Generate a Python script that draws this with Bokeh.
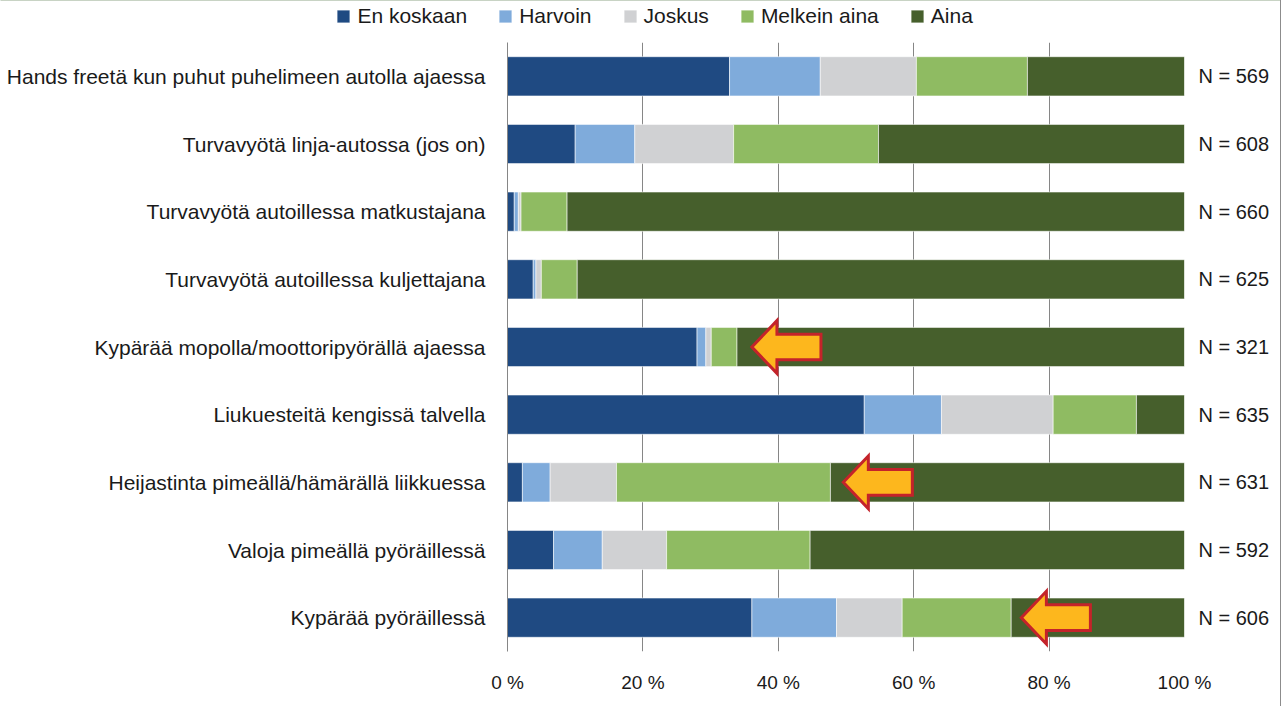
from bokeh.plotting import figure
from bokeh.models import (Range1d, FixedTicker, LinearAxis, Legend, LegendItem,
                          ColumnDataSource)
from bokeh.embed import file_html
from bokeh.resources import INLINE

categories = [
    "Hands freetä kun puhut puhelimeen autolla ajaessa",
    "Turvavyötä linja-autossa (jos on)",
    "Turvavyötä autoillessa matkustajana",
    "Turvavyötä autoillessa kuljettajana",
    "Kypärää mopolla/moottoripyörällä ajaessa",
    "Liukuesteitä kengissä talvella",
    "Heijastinta pimeällä/hämärällä liikkuessa",
    "Valoja pimeällä pyöräillessä",
    "Kypärää pyöräillessä",
]
n_values = [569, 608, 660, 625, 321, 635, 631, 592, 606]

series_names = ["En koskaan", "Harvoin", "Joskus", "Melkein aina", "Aina"]
en_koskaan = [32.8, 10.0, 1.0, 3.8, 28.0, 52.7, 2.2, 6.8, 36.1]
harvoin = [13.4, 8.8, 0.6, 0.4, 1.3, 11.4, 4.1, 7.2, 12.5]
joskus = [14.2, 14.6, 0.4, 0.8, 0.8, 16.5, 9.8, 9.5, 9.7]
melkein_aina = [16.4, 21.4, 6.8, 5.3, 3.8, 12.3, 31.6, 21.2, 16.1]
aina = [23.2, 45.2, 91.2, 89.7, 66.1, 7.1, 52.3, 55.3, 25.6]

x_ticks = [0, 20, 40, 60, 80, 100]
x_tick_labels = ["0 %", "20 %", "40 %", "60 %", "80 %", "100 %"]

# highlighted rows (arrows) and their tip positions (%)
arrow_rows = [4, 6, 8]
arrow_tips = [36.1, 49.6, 75.9]

colors = ["#1F4A82", "#7FABDB", "#D0D1D3", "#8FBB62", "#465F2C"]
FONT = "Liberation Sans"
W = 1281
TOP_H = 42
BORDER = {"border-right": "1px solid #8c8c8c", "box-sizing": "border-box"}

nrows = len(categories)
ypos = [nrows - 1 - i for i in range(nrows)]

data = dict(y=ypos)
for name, vals in zip(series_names, [en_koskaan, harvoin, joskus, melkein_aina, aina]):
    data[name] = vals
source = ColumnDataSource(data)

# ---------- legend strip (separate root, full-width frame) ----------
lf = figure(width=W, height=TOP_H, x_range=Range1d(0, 1), y_range=Range1d(0, 1),
            output_backend="svg", toolbar_location=None,
            x_axis_location=None, y_axis_location=None,
            min_border_left=0, min_border_right=0, min_border_top=0, min_border_bottom=0)
lf.outline_line_color = None
lf.grid.grid_line_color = None
lf.border_fill_color = "white"
lf.background_fill_color = "white"
lf.styles = BORDER
# legend keys: one off-range sample per series so the key swatch has a colour
dummy = [lf.hbar(y=[5], right=[1], height=0.5, color=c, line_color="white",
                 line_width=0.8, line_alpha=0.7) for c in colors]
legend = Legend(items=[LegendItem(label=n, renderers=[r]) for n, r in zip(series_names, dummy)],
                orientation="horizontal", location=(335.4, 14),
                padding=0, margin=0, border_line_color=None, background_fill_alpha=0,
                glyph_width=16, glyph_height=16, label_standoff=6, spacing=30,
                label_text_font=FONT, label_text_font_size="21px",
                label_text_color="#1a1a1a", label_height=20)
lf.add_layout(legend, "center")

# ---------- main chart ----------
p = figure(width=W, height=706 - TOP_H, x_range=Range1d(0, 100),
           y_range=Range1d(-0.5, nrows - 0.5),
           output_backend="svg", toolbar_location=None,
           min_border_left=507, min_border_right=97,
           min_border_top=0, min_border_bottom=55)
p.outline_line_color = None
p.background_fill_color = "white"
p.border_fill_color = "white"
p.styles = BORDER

p.hbar_stack(series_names, y="y", height=0.58, color=colors,
             source=source, line_color="white", line_width=0.8, line_alpha=0.7)

# arrows
head_len, total_len, head_half, shaft_half = 3.7, 10.2, 0.39, 0.19
axs, ays = [], []
for r, t in zip(arrow_rows, arrow_tips):
    yc = nrows - 1 - r
    axs.append([t, t + head_len, t + head_len, t + total_len, t + total_len,
                t + head_len, t + head_len])
    ays.append([yc, yc + head_half, yc + shaft_half, yc + shaft_half,
                yc - shaft_half, yc - shaft_half, yc - head_half])
p.patches(axs, ays, fill_color="#FDB71D", line_color="#C4232A",
          line_width=3, line_join="miter")

# x axis
p.xaxis.ticker = FixedTicker(ticks=x_ticks)
p.xaxis.major_label_overrides = {t: l for t, l in zip(x_ticks, x_tick_labels)}
p.xaxis.axis_line_color = None
p.xaxis.major_tick_line_color = None
p.xaxis.minor_tick_line_color = None
p.xaxis.major_label_standoff = 14
p.xaxis.major_label_text_font = FONT
p.xaxis.major_label_text_font_size = "19px"
p.xaxis.major_label_text_color = "#1a1a1a"

# left y axis
p.yaxis.ticker = FixedTicker(ticks=ypos)
p.yaxis.major_label_overrides = {y: c for y, c in zip(ypos, categories)}
p.yaxis.axis_line_color = "#868686"
p.yaxis.major_tick_line_color = None
p.yaxis.minor_tick_line_color = None
p.yaxis.major_label_standoff = 16
p.yaxis.major_label_text_font = FONT
p.yaxis.major_label_text_font_size = "21px"
p.yaxis.major_label_text_color = "#1a1a1a"

# right axis with N labels
raxis = LinearAxis(ticker=FixedTicker(ticks=ypos))
raxis.major_label_overrides = {y: f"N = {n}" for y, n in zip(ypos, n_values)}
raxis.axis_line_color = None
raxis.major_tick_line_color = None
raxis.minor_tick_line_color = None
raxis.major_label_standoff = 8
raxis.major_label_text_font = FONT
raxis.major_label_text_font_size = "20px"
raxis.major_label_text_color = "#1a1a1a"
p.add_layout(raxis, "right")

# grid
p.xgrid.ticker = FixedTicker(ticks=x_ticks)
p.xgrid.grid_line_color = "#868686"
p.ygrid.grid_line_color = None

open("out.html", "w").write(file_html([lf, p], INLINE))
